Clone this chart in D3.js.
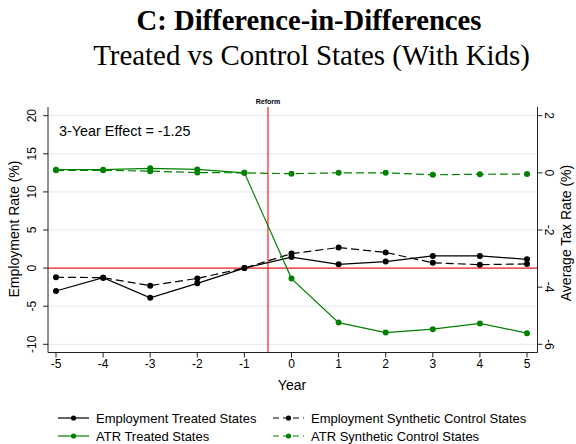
<!DOCTYPE html>
<html>
<head>
<meta charset="utf-8">
<script src="https://cdn.jsdelivr.net/npm/d3@7"></script>
<style>
  html, body { margin: 0; padding: 0; background: #fff; }
  svg { display: block; }
  text { font-family: Arial, "Liberation Sans", sans-serif; fill: #000; }
</style>
</head>
<body>
<svg id="chart" width="576" height="444"></svg>
<script>
// ---- data ----
const years = [-5, -4, -3, -2, -1, 0, 1, 2, 3, 4, 5];
const empTreated = [-3.0, -1.25, -3.9, -2.0, 0.0, 1.45, 0.5, 0.85, 1.6, 1.6, 1.15];
const empSynth   = [-1.2, -1.25, -2.3, -1.35, 0.0, 1.9, 2.7, 2.05, 0.7, 0.45, 0.55];
const atrTreated = [0.11, 0.11, 0.16, 0.12, 0.0, -3.7, -5.24, -5.59, -5.47, -5.27, -5.61];
const atrSynth   = [0.09, 0.09, 0.06, 0.01, 0.0, -0.03, 0.0, 0.0, -0.07, -0.05, -0.04];
const leftTicks  = [-10, -5, 0, 5, 10, 15, 20];
const rightTicks = [-6, -4, -2, 0, 2];
const xTicks     = [-5, -4, -3, -2, -1, 0, 1, 2, 3, 4, 5];
const reformYear = -0.5;
const titleLine1 = "C: Difference-in-Differences";
const titleLine2 = "Treated vs Control States (With Kids)";
const effectText = "3-Year Effect = -1.25";
const legendLabels = ["Employment Treated States", "Employment Synthetic Control States",
                      "ATR Treated States", "ATR Synthetic Control States"];

// ---- layout ----
const svg = d3.select("#chart");
const plotL = 48, plotR = 537.5, plotT = 107, plotB = 352.5;
const x = d3.scaleLinear().domain([-5, 5]).range([56, 527]);
const yL = d3.scaleLinear().domain([-10, 20]).range([344.3, 115.7]);
const yR = d3.scaleLinear().domain([-6, 2]).range([344.3, 115.7]);
const green = "#008000";
const axisColor = "#222";

// title (fit widths)
function fitText(sel, targetW) {
  let fs = parseFloat(sel.attr("font-size"));
  const w = sel.node().getComputedTextLength();
  sel.attr("font-size", fs * targetW / w);
}
const t1 = svg.append("text").attr("x", 309).attr("y", 29.5).attr("text-anchor", "middle")
  .attr("font-size", 22).attr("font-weight", "bold")
  .style("font-family", "'Liberation Serif', 'DejaVu Serif', serif").text(titleLine1);
fitText(t1, 345);
const t2 = svg.append("text").attr("x", 311.5).attr("y", 65).attr("text-anchor", "middle")
  .attr("font-size", 26)
  .style("font-family", "'Liberation Serif', 'DejaVu Serif', serif").text(titleLine2);
fitText(t2, 437);

// gridlines
svg.append("g").selectAll("line").data(leftTicks).join("line")
  .attr("x1", plotL).attr("x2", plotR)
  .attr("y1", d => yL(d)).attr("y2", d => yL(d))
  .attr("stroke", "#e6eef2").attr("stroke-width", 1.2);

// reference lines
svg.append("line").attr("x1", plotL).attr("x2", plotR)
  .attr("y1", yL(0)).attr("y2", yL(0)).attr("stroke", "#ff2020").attr("stroke-width", 1.2);
svg.append("line").attr("x1", x(reformYear)).attr("x2", x(reformYear))
  .attr("y1", plotT).attr("y2", plotB).attr("stroke", "#ff2020").attr("stroke-width", 1.2);
svg.append("text").attr("x", x(reformYear)).attr("y", 104).attr("text-anchor", "middle")
  .attr("font-size", 7).attr("font-weight", "bold").text("Reform");

// axes
const axG = svg.append("g");
axG.append("line").attr("x1", plotL).attr("x2", plotL).attr("y1", plotT).attr("y2", plotB)
  .attr("stroke", axisColor).attr("stroke-width", 1);
axG.append("line").attr("x1", plotR).attr("x2", plotR).attr("y1", plotT).attr("y2", plotB)
  .attr("stroke", axisColor).attr("stroke-width", 1);
axG.append("line").attr("x1", plotL).attr("x2", plotR).attr("y1", plotB).attr("y2", plotB)
  .attr("stroke", axisColor).attr("stroke-width", 1);

// left ticks
axG.selectAll(".lt").data(leftTicks).join("line").attr("class", "lt")
  .attr("x1", plotL - 5).attr("x2", plotL).attr("y1", d => yL(d)).attr("y2", d => yL(d))
  .attr("stroke", axisColor);
axG.selectAll(".ltl").data(leftTicks).join("text").attr("class", "ltl")
  .attr("transform", d => `translate(35.5,${yL(d)}) rotate(-90)`)
  .attr("text-anchor", "middle").attr("font-size", 12).text(d => d);
// right ticks
axG.selectAll(".rt").data(rightTicks).join("line").attr("class", "rt")
  .attr("x1", plotR).attr("x2", plotR + 5).attr("y1", d => yR(d)).attr("y2", d => yR(d))
  .attr("stroke", axisColor);
axG.selectAll(".rtl").data(rightTicks).join("text").attr("class", "rtl")
  .attr("transform", d => `translate(545,${yR(d)}) rotate(90)`)
  .attr("text-anchor", "middle").attr("font-size", 12).text(d => d);
// bottom ticks
axG.selectAll(".bt").data(xTicks).join("line").attr("class", "bt")
  .attr("x1", d => x(d)).attr("x2", d => x(d)).attr("y1", plotB).attr("y2", plotB + 5)
  .attr("stroke", axisColor);
axG.selectAll(".btl").data(xTicks).join("text").attr("class", "btl")
  .attr("x", d => x(d)).attr("y", 367.5).attr("text-anchor", "middle")
  .attr("font-size", 12).text(d => d);

// axis titles
svg.append("text").attr("transform", "translate(19,229) rotate(-90)")
  .attr("text-anchor", "middle").attr("font-size", 14).text("Employment Rate (%)");
svg.append("text").attr("transform", "translate(571,233) rotate(-90)")
  .attr("text-anchor", "middle").attr("font-size", 14).text("Average Tax Rate (%)");
svg.append("text").attr("x", 292).attr("y", 390).attr("text-anchor", "middle")
  .attr("font-size", 14).text("Year");

// effect annotation
svg.append("text").attr("x", 59).attr("y", 136).attr("font-size", 14.4).text(effectText);

// series
const series = [
  { vals: empTreated, scale: yL, color: "#000", dash: null },
  { vals: empSynth,   scale: yL, color: "#000", dash: "8,4" },
  { vals: atrSynth,   scale: yR, color: green,  dash: "8,4" },
  { vals: atrTreated, scale: yR, color: green,  dash: null },
];
series.forEach(s => {
  const pts = years.map((yr, i) => [yr, s.vals[i]]);
  const line = d3.line().x(d => x(d[0])).y(d => s.scale(d[1]));
  svg.append("path").attr("d", line(pts)).attr("fill", "none")
    .attr("stroke", s.color).attr("stroke-width", 1.2)
    .attr("stroke-dasharray", s.dash);
  svg.append("g").selectAll("circle").data(pts).join("circle")
    .attr("cx", d => x(d[0])).attr("cy", d => s.scale(d[1])).attr("r", 3)
    .attr("fill", s.color);
});

// legend
const legendItems = [
  { label: legendLabels[0], color: "#000", dash: null, lx: 58, ty: 418 },
  { label: legendLabels[1], color: "#000", dash: "6,4", lx: 273, ty: 418 },
  { label: legendLabels[2], color: green, dash: null, lx: 58, ty: 436 },
  { label: legendLabels[3], color: green, dash: "6,4", lx: 273, ty: 436 },
];
const lg = svg.append("g");
legendItems.forEach(it => {
  lg.append("line").attr("x1", it.lx).attr("x2", it.lx + 31).attr("y1", it.ty).attr("y2", it.ty)
    .attr("stroke", it.color).attr("stroke-width", 1.2).attr("stroke-dasharray", it.dash);
  lg.append("circle").attr("cx", it.lx + 15.5).attr("cy", it.ty).attr("r", 2.6).attr("fill", it.color);
  lg.append("text").attr("x", it.lx + 38).attr("y", it.ty + 4.5).attr("font-size", 13).text(it.label);
});
</script>
</body>
</html>
